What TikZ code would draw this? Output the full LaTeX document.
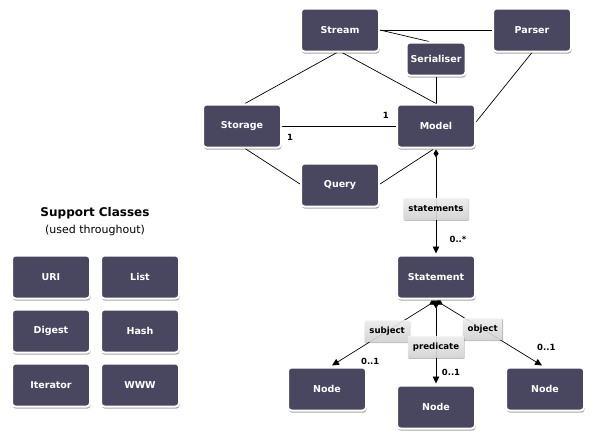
\documentclass[tikz,border=0pt]{standalone}
\usepackage{fontspec}
\setmainfont{DejaVu Sans}
\usetikzlibrary{arrows.meta,shadows,calc}
\definecolor{boxc}{HTML}{48475F}
\pgfdeclarelayer{bg}
\pgfsetlayers{bg,main}
\tikzset{
  cls/.style={rectangle, rounded corners=3.5pt, fill=boxc, draw=white, line width=2pt,
    minimum width=78pt, minimum height=43pt, text=white, font=\bfseries\fontsize{9.5}{11}\selectfont,
    drop shadow={shadow xshift=0.6pt, shadow yshift=-2.2pt, opacity=0.35, fill=black}},
  smallcls/.style={cls, minimum width=59pt, minimum height=33pt},
  lab/.style={rectangle, rounded corners=1pt, top color=gray!8, bottom color=gray!30, fill opacity=0.88,
    text opacity=1, inner xsep=5pt, inner ysep=3pt, minimum height=22pt, text=black,
    font=\bfseries\fontsize{8.6}{10}\selectfont,
    drop shadow={shadow xshift=0.5pt, shadow yshift=-1pt, opacity=0.25, fill=black}},
  mult/.style={font=\bfseries\fontsize{8.5}{10}\selectfont, text=black, inner sep=0pt},
  conn/.style={draw=black, line width=0.7pt},
  dia/.tip={Diamond[length=8pt,width=5pt]},
  tri/.tip={Triangle[length=7pt,width=6.5pt]},
}
\begin{document}
\begin{tikzpicture}[x=1pt,y=1pt]
\useasboundingbox (0,0) rectangle (596,-445);
% nodes
\node[cls] (stream) at (340,-30) {Stream};
\node[cls] (parser) at (532,-30) {Parser};
\node[smallcls] (ser) at (436,-59) {Serialiser};
\node[cls] (storage) at (242,-126) {Storage};
\node[cls] (model) at (436,-126) {Model};
\node[cls] (query) at (340,-185) {Query};
\node[cls] (statement) at (436,-277) {Statement};
\node[cls] (nodeL) at (327,-389) {Node};
\node[cls] (nodeM) at (436,-407) {Node};
\node[cls] (nodeR) at (545,-389) {Node};
% support classes
\node[font=\bfseries\fontsize{12}{14}\selectfont] (sctitle) at (95,-213) {Support Classes};
\node[font=\fontsize{11}{13}\selectfont] (scsub) at (95,-230) {(used throughout)};
\node[cls] (uri) at (51,-277) {URI};
\node[cls] (list) at (140,-277) {List};
\node[cls] (digest) at (51,-331) {Digest};
\node[cls] (hash) at (140,-331) {Hash};
\node[cls] (iter) at (51,-385) {Iterator};
\node[cls] (www) at (140,-385) {WWW};
% connectors behind nodes
\begin{pgfonlayer}{bg}
\draw[conn] (stream.east) -- (parser.west);
\draw[conn] (stream.east) -- ($(ser.north)+(-7,0)$);
\draw[conn] ($(stream.south)+(-3,0)$) -- ($(storage.north)+(3,0)$);
\draw[conn] ($(stream.south)+(2,0)$) -- (model.north);
\draw[conn] (ser.south) -- (model.north);
\draw[conn] (parser.south) -- ($(model.east)+(0,4)$);
\draw[conn] (storage.east) -- (model.west)
  node[mult, pos=0.91, yshift=11pt] (one1) {1}
  node[mult, pos=0.07, yshift=-11pt] (one2) {1};
\draw[conn] ($(storage.south)+(3,0)$) -- ($(query.west)+(0,1)$);
\draw[conn] ($(query.east)+(0,1)$) -- ($(model.south)+(-3,-1)$);
\end{pgfonlayer}
\draw[conn, {dia}-{tri}] ($(model.south)+(0,-1)$) -- ($(statement.north)+(0,1)$)
  node[lab, pos=0.57] (lstat) {statements}
  node[mult, pos=0.86, xshift=22pt] (m0) {0..*};
\draw[conn, {dia}-{tri}] ($(statement.south)+(0,-1)$) -- ($(nodeL.north)+(5,1)$)
  node[lab, pos=0.47] (lsubj) {subject}
  node[mult, pos=0.94, xshift=32pt] (m1) {0..1};
\draw[conn, {dia}-{tri}] ($(statement.south)+(0,-1)$) -- ($(nodeR.north)+(-3,1)$)
  node[lab, pos=0.44] (lobj) {object}
  node[mult, pos=0.72, xshift=34pt] (m3) {0..1};
\draw[conn, {dia}-{tri}] ($(statement.south)+(0,-1)$) -- ($(nodeM.north)+(0,1)$)
  node[lab, pos=0.56] (lpred) {predicate}
  node[mult, pos=0.87, xshift=15pt] (m2) {0..1};
\end{tikzpicture}
\end{document}
